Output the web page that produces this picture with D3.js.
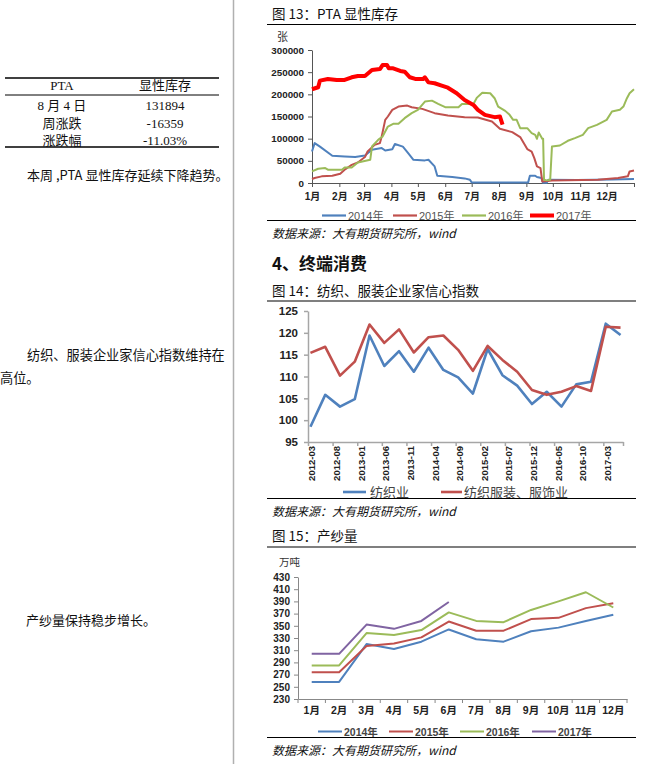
<!DOCTYPE html>
<html><head><meta charset="utf-8">
<script src="https://cdn.jsdelivr.net/npm/d3@7"></script>
<style>
body{margin:0;background:#fff;}
svg{display:block}
</style></head><body>
<svg id="c" width="648" height="764"></svg>
<script>
// ---------- DATA ----------
// Left table
const tableHeader = ["PTA", "显性库存"];
const tableRows = [["8 月 4 日", "131894"], ["周涨跌", "-16359"], ["涨跌幅", "-11.03%"]];

// Chart 13: PTA visible inventory, [day of year, 张]
const monthDays13 = [0, 31, 59, 90, 120, 151, 181, 212, 243, 273, 304, 334];
const monthLabels = ["1月","2月","3月","4月","5月","6月","7月","8月","9月","10月","11月","12月"];
const yTicks13 = [0, 50000, 100000, 150000, 200000, 250000, 300000];
const inv2014 = [[0,71000],[3,90000],[9,82000],[23,61400],[37,60000],[49,58500],[60,62000],[68,75000],[79,78700],[83,73400],[91,76000],[94,88000],[103,82000],[109,67500],[115,52400],[128,51000],[132,52400],[139,37400],[142,16400],[159,13500],[173,10400],[179,7400],[181,1400],[245,1400],[247,16400],[253,16400],[255,13500],[260,11200],[262,500],[266,500],[268,7400],[300,7000],[340,8000],[365,9000]];
const inv2015 = [[0,9000],[3,11200],[11,15000],[23,16400],[32,21000],[37,30000],[45,41000],[52,46400],[60,58500],[63,71000],[71,86000],[77,90000],[79,105000],[83,142400],[86,150000],[91,165000],[98,172400],[108,174600],[113,171000],[125,167200],[139,157500],[154,152100],[173,148500],[188,147600],[204,138600],[213,122200],[227,114800],[236,103500],[244,76500],[249,71000],[252,56200],[255,37400],[259,33700],[261,3600],[272,5900],[324,7400],[347,11200],[358,15000],[360,26100],[365,28000]];
const inv2016 = [[0,26100],[7,32200],[15,33700],[18,30000],[34,30000],[37,35100],[45,35100],[52,46400],[66,52400],[68,82300],[75,97400],[80,105000],[86,127400],[92,133400],[98,133400],[105,146200],[113,157500],[120,165000],[128,183600],[136,185800],[143,178400],[151,171000],[166,171000],[170,178400],[183,178400],[187,192600],[193,203800],[202,202500],[207,191200],[211,172400],[219,162700],[224,153700],[228,142400],[232,142400],[236,123700],[244,123700],[249,112500],[253,108700],[255,99700],[257,113900],[261,99700],[262,99700],[263,7400],[266,5900],[270,7400],[272,82300],[281,84600],[290,95200],[298,101200],[307,108700],[313,123700],[323,131200],[334,142400],[340,161100],[349,165000],[353,172400],[357,191200],[360,202500],[365,211500]];
const inv2017 = [[0,211500],[7,216000],[9,231000],[18,234700],[28,232400],[37,232400],[45,238500],[52,241400],[60,241400],[68,255000],[77,257000],[80,266000],[85,266000],[87,258700],[92,258700],[100,252700],[105,251000],[111,238500],[117,234700],[126,234700],[128,238500],[132,227000],[139,225000],[147,219600],[154,215000],[164,202500],[173,187400],[183,176200],[188,165000],[196,153700],[207,148500],[213,150000],[216,131894]];

// Chart 14: confidence index (quarterly)
const quarters14 = ["2012-03","2012-06","2012-09","2012-12","2013-03","2013-06","2013-09","2013-12","2014-03","2014-06","2014-09","2014-12","2015-03","2015-06","2015-09","2015-12","2016-03","2016-06","2016-09","2016-12","2017-03","2017-06"];
const textile14 = [98.5,105.8,103.1,104.8,119.4,112.4,115.8,111.1,116.6,111.5,109.8,106.1,116.3,110.3,107.9,103.7,106.5,103.1,108.2,108.8,122.1,119.5];
const apparel14 = [115.4,116.8,110.2,113.4,121.9,117.7,120.8,115.5,119.0,119.4,116.1,111.3,117.0,113.8,111.1,106.9,105.8,106.5,107.8,106.7,121.4,121.2];
const xTickLabels14 = ["2012-03","2012-08","2013-01","2013-06","2013-11","2014-04","2014-09","2015-02","2015-07","2015-12","2016-05","2016-10","2017-03"];
const yTicks14 = [95,100,105,110,115,120,125];

// Chart 15: yarn output (万吨)
const yarn2014 = [258,258,320,312,324,344,328,324,341,347,358,368];
const yarn2015 = [274,274,317,321,331,357,342,342,361,363,379,387];
const yarn2016 = [285,285,338,335,343,372,358,356,376,390,405,380];
const yarn2017 = [304,304,352,345,358,389];
const yTicks15 = [230,250,270,290,310,330,350,370,390,410,430];

// ---------- DRAW ----------
const svg = d3.select("#c");
const CJK = "'Noto Sans CJK SC','Noto Sans',sans-serif";
const NUM = "'Liberation Sans',Arial,'Noto Sans CJK SC',sans-serif";
const SERIF = "'Liberation Serif','Noto Sans CJK SC',serif";

function txt(x, y, s, size, opts = {}) {
  return svg.append("text").attr("x", x).attr("y", y).text(s)
    .attr("font-family", opts.family || CJK).attr("font-size", size)
    .attr("font-weight", opts.weight || "normal")
    .attr("font-style", opts.style || "normal")
    .attr("fill", opts.fill || "#111")
    .attr("text-anchor", opts.anchor || "start");
}
function hline(x1, x2, y, w = 1, c = "#000") {
  svg.append("line").attr("x1", x1).attr("x2", x2).attr("y1", y).attr("y2", y)
    .attr("stroke", c).attr("stroke-width", w);
}

// vertical separator
svg.append("line").attr("x1", 233.5).attr("x2", 233.5).attr("y1", 0).attr("y2", 764)
  .attr("stroke", "#b0b0b0").attr("stroke-width", 1.5);

// Table
hline(5, 219, 78, 1.5);
hline(5, 219, 95, 1);
hline(5, 219, 147, 1.5);
const colX = [62, 165];
tableHeader.forEach((h, i) => txt(colX[i], 90, h, 13, {family: SERIF, anchor: "middle"}));
tableRows.forEach((r, j) => r.forEach((c, i) => txt(colX[i], 110 + j * 17.5, c, 13, {family: SERIF, anchor: "middle"})));

// Left commentary
txt(27, 180, "本周 ,PTA 显性库存延续下降趋势。", 13);
txt(27, 360, "纺织、服装企业家信心指数维持在", 13.2);
txt(0, 383, "高位。", 13.2);
txt(26, 625, "产纱量保持稳步增长。", 13);

// ===== Chart 13 =====
txt(272, 19, "图 13：PTA 显性库存", 13.5);
hline(267, 636, 24.5, 1.2);
txt(277, 41, "张", 11, {fill: "#333"});
const x13 = d3.scaleLinear().domain([0, 365]).range([312, 634]);
const y13 = d3.scaleLinear().domain([0, 300000]).range([183, 50]);
const gy13 = svg.append("g").attr("transform", "translate(312,0)")
  .call(d3.axisLeft(y13).tickValues(yTicks13).tickSize(4).tickSizeOuter(0).tickFormat(d3.format("d")));
gy13.selectAll("text").attr("font-family", NUM).attr("font-size", 9.8).attr("font-weight", "bold").attr("fill", "#222").attr("x", -8);
gy13.selectAll("line,path").attr("stroke", "#555");
const gx13 = svg.append("g").attr("transform", "translate(0,183)")
  .call(d3.axisBottom(x13).tickValues(monthDays13.concat([365])).tickSize(4).tickSizeOuter(0)
    .tickFormat((d, i) => i < monthLabels.length ? monthLabels[i] : ""));
gx13.selectAll("text").attr("font-family", NUM).attr("font-size", 10).attr("font-weight", "bold").attr("fill", "#222").attr("dy", "0.95em");
gx13.selectAll("line,path").attr("stroke", "#555");
const line13 = d3.line().x(d => x13(d[0])).y(d => y13(d[1]));
const series13 = [
  {name: "2014年", data: inv2014, color: "#4f81bd", w: 2},
  {name: "2015年", data: inv2015, color: "#c0504d", w: 2},
  {name: "2016年", data: inv2016, color: "#9bbb59", w: 2},
  {name: "2017年", data: inv2017, color: "#ff0000", w: 4}
];
series13.forEach(s => svg.append("path").datum(s.data).attr("d", line13)
  .attr("fill", "none").attr("stroke", s.color).attr("stroke-width", s.w).attr("stroke-linejoin", "round"));
const leg13X = [322, 393, 462, 530];
series13.forEach((s, i) => {
  svg.append("line").attr("x1", leg13X[i]).attr("x2", leg13X[i] + 24).attr("y1", 215.5).attr("y2", 215.5)
    .attr("stroke", s.color).attr("stroke-width", s.w === 4 ? 4 : 2.2);
  txt(leg13X[i] + 26, 219.5, s.name, 11, {family: NUM, fill: "#555"});
});
hline(267, 636, 220.5, 1.2);
txt(272, 238, "数据来源：大有期货研究所，wind", 12, {style: "italic"});

// ===== Chart 14 =====
txt(272, 270, "4、终端消费", 17, {weight: "bold"});
txt(272, 296, "图 14：纺织、服装企业家信心指数", 13.5);
hline(267, 636, 301, 1.2);
const idx14 = s => { const [y, m] = s.split("-").map(Number); return (y - 2012) * 12 + (m - 3); };
const x14 = d3.scaleLinear().domain([-0.5, 63.5]).range([308, 623]);
const y14 = d3.scaleLinear().domain([95, 125]).range([442, 311]);
const gy14 = svg.append("g").attr("transform", "translate(308,0)")
  .call(d3.axisLeft(y14).tickValues(yTicks14).tickSize(4).tickSizeOuter(0));
gy14.selectAll("text").attr("font-family", NUM).attr("font-size", 11.5).attr("font-weight", "bold").attr("fill", "#222").attr("x", -10);
gy14.selectAll("line,path").attr("stroke", "#a6a6a6").attr("stroke-width", 1.5);
const gx14 = svg.append("g").attr("transform", "translate(0,442)")
  .call(d3.axisBottom(x14).tickValues(xTickLabels14.map(s => idx14(s) - 0.5).concat([63.5])).tickSize(4).tickSizeOuter(0).tickFormat(""));
gx14.selectAll("line,path").attr("stroke", "#a6a6a6").attr("stroke-width", 1.5);
xTickLabels14.forEach(s => {
  const x = x14(idx14(s)) + 1.5;
  svg.append("text").attr("transform", `translate(${x + 3.5},446) rotate(-90)`)
    .attr("text-anchor", "end").attr("font-family", NUM).attr("font-size", 9.5)
    .attr("font-weight", "bold").attr("fill", "#222").text(s);
});
const line14 = d3.line().x((d, i) => x14(idx14(quarters14[i]))).y(d => y14(d));
[[textile14, "#4f81bd"], [apparel14, "#c0504d"]].forEach(([d, c]) =>
  svg.append("path").datum(d).attr("d", line14).attr("fill", "none").attr("stroke", c)
    .attr("stroke-width", 2.6).attr("stroke-linejoin", "round"));
svg.append("line").attr("x1", 343).attr("x2", 366).attr("y1", 492).attr("y2", 492).attr("stroke", "#4f81bd").attr("stroke-width", 2.6);
txt(370, 496.5, "纺织业", 13, {family: SERIF, fill: "#444"});
svg.append("line").attr("x1", 441).attr("x2", 462).attr("y1", 492).attr("y2", 492).attr("stroke", "#c0504d").attr("stroke-width", 2.6);
txt(464, 496.5, "纺织服装、服饰业", 13, {family: SERIF, fill: "#444"});
hline(267, 636, 498.5, 1.2);
txt(272, 516, "数据来源：大有期货研究所，wind", 12, {style: "italic"});

// ===== Chart 15 =====
txt(272, 541, "图 15：产纱量", 13.5);
hline(267, 636, 547, 1.2);
txt(279, 566, "万吨", 10.5, {fill: "#333"});
const x15 = d3.scaleBand().domain(monthLabels).range([298, 627]);
const y15 = d3.scaleLinear().domain([230, 430]).range([699, 577]);
const gy15 = svg.append("g").attr("transform", "translate(298,0)")
  .call(d3.axisLeft(y15).tickValues(yTicks15).tickSize(4).tickSizeOuter(0));
gy15.selectAll("text").attr("font-family", NUM).attr("font-size", 10).attr("font-weight", "bold").attr("fill", "#222").attr("x", -8);
gy15.selectAll("line,path").attr("stroke", "#888");
const gx15 = svg.append("g").attr("transform", "translate(0,699)")
  .call(d3.axisBottom(x15).tickSize(0).tickSizeOuter(0));
gx15.selectAll("text").attr("font-family", NUM).attr("font-size", 10.5).attr("font-weight", "bold").attr("fill", "#222").attr("dy", "1.15em");
gx15.selectAll("path").attr("stroke", "#888");
x15.domain().concat(["end"]).forEach((m, i) => {
  const xx = i < 12 ? x15(m) : 627;
  svg.append("line").attr("x1", xx).attr("x2", xx).attr("y1", 699).attr("y2", 703).attr("stroke", "#888");
});
const line15 = d3.line().x((d, i) => x15(monthLabels[i]) + x15.bandwidth() / 2).y(d => y15(d));
const series15 = [
  {name: "2014年", data: yarn2014, color: "#4f81bd"},
  {name: "2015年", data: yarn2015, color: "#c0504d"},
  {name: "2016年", data: yarn2016, color: "#9bbb59"},
  {name: "2017年", data: yarn2017, color: "#8064a2"}
];
series15.forEach(s => svg.append("path").datum(s.data).attr("d", line15)
  .attr("fill", "none").attr("stroke", s.color).attr("stroke-width", 2).attr("stroke-linejoin", "round"));
const leg15X = [318, 389, 460, 532];
series15.forEach((s, i) => {
  svg.append("line").attr("x1", leg15X[i]).attr("x2", leg15X[i] + 24).attr("y1", 731.5).attr("y2", 731.5)
    .attr("stroke", s.color).attr("stroke-width", 2);
  txt(leg15X[i] + 26, 735.5, s.name, 10.5, {family: NUM, weight: "bold", fill: "#444"});
});
hline(267, 636, 737.5, 1.2);
txt(272, 755, "数据来源：大有期货研究所，wind", 12, {style: "italic"});
</script></body></html>
